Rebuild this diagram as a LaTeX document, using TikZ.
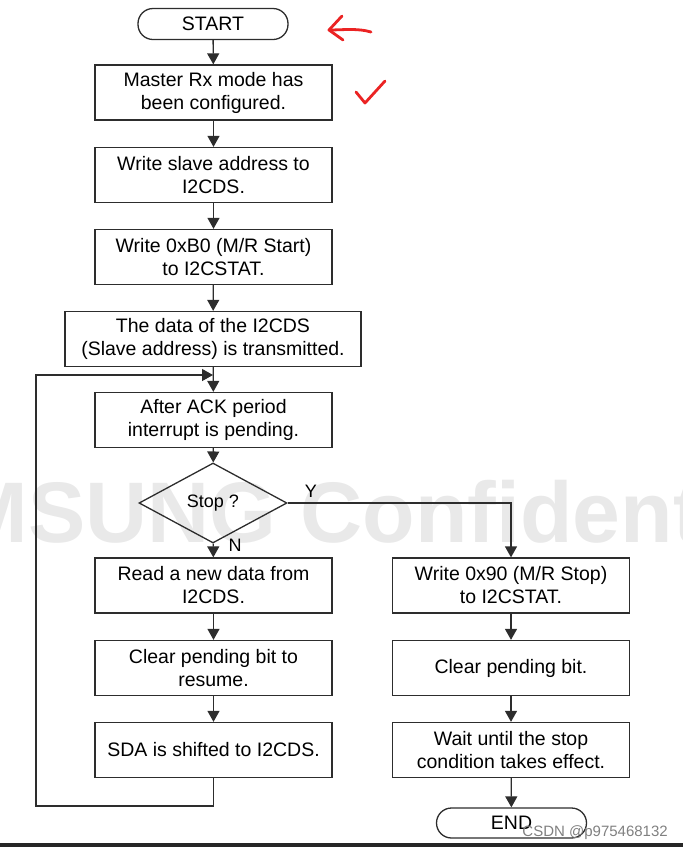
\documentclass[tikz,border=0pt]{standalone}
\usepackage{fontspec}
\setmainfont{Liberation Sans}
\usetikzlibrary{shapes.geometric,arrows.meta}
\definecolor{linegray}{RGB}{45,45,45}
\definecolor{penred}{RGB}{235,35,35}
\definecolor{markgray}{RGB}{233,233,233}

\begin{document}
\begin{tikzpicture}[x=1pt,y=-1pt,
    box/.style={draw=linegray, line width=1.3pt, minimum width=237pt, minimum height=55pt,
      align=center, inner sep=2pt, font=\fontsize{19.5}{23}\selectfont},
    term/.style={draw=linegray, line width=1.3pt, rounded corners=15pt, minimum width=150pt,
      minimum height=31pt, inner sep=0pt, font=\fontsize{19.5}{23}\selectfont},
    flow/.style={draw=linegray, line width=1.3pt, -{Triangle[length=11pt,width=12pt]}}]
        \useasboundingbox (0,0) rectangle (683,847);

        % Watermark in the back
        \begin{scope}
          \clip (0,0) rectangle (683,847);
          \node[anchor=base west, inner sep=0pt, text=markgray,
            font=\fontsize{86}{86}\selectfont\bfseries] (wmark) at (-163,542) {SAMSUNG Confidential};
        \end{scope}

        % Start
        \node[term] (start) at (213,24) {START};

        % Left column
        \node[box] (b1) at (213.5,92.5) {Master Rx mode has\\been configured.};
        \node[box] (b2) at (213.5,175) {Write slave address to\\I2CDS.};
        \node[box] (b3) at (213.5,257) {Write 0xB0 (M/R Start)\\to I2CSTAT.};
        \node[box, minimum width=296pt] (b4) at (213,339) {The data of the I2CDS\\(Slave address) is transmitted.};
        \node[box] (b5) at (213.5,420) {After ACK period\\interrupt is pending.};

        % Decision
        \node[diamond, draw=linegray, line width=1.3pt, aspect=1.85, minimum width=148pt,
          minimum height=80pt, inner sep=0pt, font=\fontsize{18}{23}\selectfont] (stop) at (213,503) {Stop ?};

        \node[box] (b6) at (213.5,585.5) {Read a new data from\\I2CDS.};
        \node[box] (b7) at (213.5,668) {Clear pending bit to\\resume.};
        \node[box] (b8) at (213.5,750) {SDA is shifted to I2CDS.};

        % Right column
        \node[box] (r1) at (511,585.5) {Write 0x90 (M/R Stop)\\to I2CSTAT.};
        \node[box] (r2) at (511,668) {Clear pending bit.};
        \node[box] (r3) at (511,750) {Wait until the stop\\condition takes effect.};
        \node[term, minimum height=30pt] (end) at (511.5,823) {END};

        % Arrows down the left column
        \draw[flow] (start) -- (b1);
        \draw[flow] (b1) -- (b2);
        \draw[flow] (b2) -- (b3);
        \draw[flow] (b3) -- (b4);
        \draw[flow] (b4) -- (b5);
        \draw[flow] (b5) -- (stop);
        \draw[flow] (stop) -- (b6);
        \draw[flow] (b6) -- (b7);
        \draw[flow] (b7) -- (b8);

        % Loop back
        \coordinate (join) at (213,375);
        \coordinate (loopbot) at (36,806);
        \draw[flow] (b8.south) |- (loopbot) |- (join);

        % Stop branch
        \draw[flow] (stop.east) -| (r1.north);
        \draw[flow] (r1) -- (r2);
        \draw[flow] (r2) -- (r3);
        \draw[flow] (r3) -- (end);

        % Branch labels
        \node[font=\fontsize{18}{23}\selectfont] (ylab) at (311,491) {Y};
        \node[font=\fontsize{18}{23}\selectfont] (nlab) at (235,545) {N};

        % Pen marks
        \draw[penred, line width=2.8pt, line cap=round, line join=round]
          (371,32) .. controls (358,28) and (342,30) .. (329,30);
        \draw[penred, line width=2.8pt, line cap=round, line join=round]
          (342,16) -- (329,30) -- (343,40);
        \draw[penred, line width=2.8pt, line cap=round, line join=round]
          (356,92) -- (365,103) -- (385,81);

        % Screen tag and strip
        \node[anchor=base east, inner sep=0pt, text=gray, font=\fontsize{15}{15}\selectfont]
          (tag) at (668,836) {CSDN @p975468132};
        \fill[black!85] (0,843) rectangle (683,847);
\end{tikzpicture}
\end{document}
